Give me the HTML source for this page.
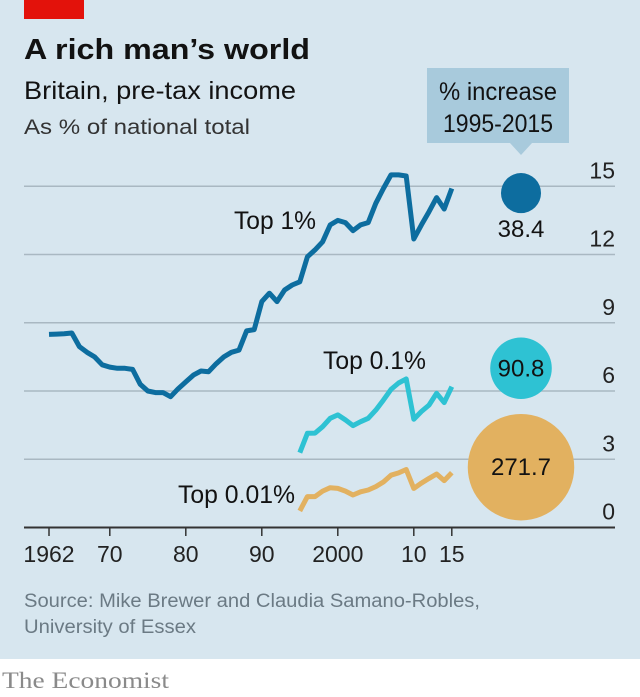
<!DOCTYPE html>
<html><head><meta charset="utf-8"><style>
body{margin:0;width:640px;height:697px;overflow:hidden;background:#fff;font-family:"Liberation Sans",sans-serif}
svg{display:block}
</style></head><body>
<svg width="640" height="697" viewBox="0 0 640 697">
<rect x="0" y="0" width="640" height="659" fill="#d7e6ef"/>
<rect x="24" y="0" width="60" height="19" fill="#e3120b"/>
<text x="24" y="59" font-size="29" font-weight="bold" fill="#121212" textLength="286" lengthAdjust="spacingAndGlyphs">A rich man’s world</text>
<text x="24" y="99" font-size="25" fill="#121212" textLength="272" lengthAdjust="spacingAndGlyphs">Britain, pre-tax income</text>
<text x="24" y="134" font-size="21" fill="#333" textLength="226" lengthAdjust="spacingAndGlyphs">As % of national total</text>
<g>
<rect x="427" y="68" width="142" height="75" fill="#a8cadc"/>
<path d="M510 143 L521 155 L532 143 Z" fill="#a8cadc"/>
<text x="498" y="100" font-size="25" text-anchor="middle" fill="#121212" textLength="118" lengthAdjust="spacingAndGlyphs">% increase</text>
<text x="498" y="132" font-size="25" text-anchor="middle" fill="#121212" textLength="110" lengthAdjust="spacingAndGlyphs">1995-2015</text>
</g>
<g id="grid"></g>
<g id="xaxis"></g>
<g id="series"></g>
<g id="bubbles"></g>
<text x="234" y="229" font-size="25" fill="#121212" textLength="82" lengthAdjust="spacingAndGlyphs">Top 1%</text>
<text x="323" y="369" font-size="25" fill="#121212" textLength="103" lengthAdjust="spacingAndGlyphs">Top 0.1%</text>
<text x="178" y="503" font-size="25" fill="#121212" textLength="117" lengthAdjust="spacingAndGlyphs">Top 0.01%</text>
<text x="24" y="607" font-size="19" fill="#6b7a84" textLength="456" lengthAdjust="spacingAndGlyphs">Source: Mike Brewer and Claudia Samano-Robles,</text>
<text x="24" y="633" font-size="19" fill="#6b7a84" textLength="172" lengthAdjust="spacingAndGlyphs">University of Essex</text>
<text x="2" y="688" font-size="23" fill="#8a8a8a" font-family="Liberation Serif,serif" textLength="167" lengthAdjust="spacingAndGlyphs">The Economist</text>
</svg>
<script>
const yearsTop1=[1962,1963,1964,1965,1966,1967,1968,1969,1970,1971,1972,1973,1974,1975,1976,1977,1978,1979,1980,1981,1982,1983,1984,1985,1986,1987,1988,1989,1990,1991,1992,1993,1994,1995,1996,1997,1998,1999,2000,2001,2002,2003,2004,2005,2006,2007,2008,2009,2010,2011,2012,2013,2014,2015];
const top1=[8.49,8.5,8.52,8.55,7.95,7.7,7.5,7.15,7.05,7.0,7.0,6.95,6.3,6.0,5.93,5.93,5.75,6.1,6.4,6.7,6.88,6.85,7.2,7.5,7.7,7.8,8.64,8.7,9.93,10.3,9.93,10.44,10.66,10.8,11.9,12.2,12.56,13.3,13.5,13.4,13.05,13.3,13.4,14.25,14.9,15.5,15.5,15.45,12.68,13.3,13.88,14.5,14.0,14.9];
const yearsRecent=[1995,1996,1997,1998,1999,2000,2001,2002,2003,2004,2005,2006,2007,2008,2009,2010,2011,2012,2013,2014,2015];
const top01=[3.29,4.14,4.15,4.43,4.8,4.95,4.73,4.48,4.65,4.8,5.16,5.6,6.07,6.35,6.53,4.76,5.1,5.38,5.9,5.49,6.19];
const top001=[0.73,1.36,1.36,1.6,1.75,1.72,1.6,1.43,1.57,1.65,1.8,2.0,2.3,2.4,2.55,1.72,1.95,2.16,2.35,2.06,2.41];
const yTicks=[0,3,6,9,12,15];
const xTicks=[1962,1970,1980,1990,2000,2010,2015];
const xTickLabels=["1962","70","80","90","2000","10","15"];
const increases=[38.4,90.8,271.7];
const bubbleCenters=[14.7,7.0,2.65];
const NS="http://www.w3.org/2000/svg";
const x=y=>49+(y-1962)*7.6;
const yS=v=>527.5-v*22.75;
function mk(tag,attrs,parent){const e=document.createElementNS(NS,tag);for(const k in attrs)e.setAttribute(k,attrs[k]);parent.appendChild(e);return e;}
const grid=document.getElementById('grid');
yTicks.forEach(t=>{
  if(t>0){const l=mk('line',{x1:24,x2:615,y1:yS(t),y2:yS(t),stroke:'#a9b8c2','stroke-width':1.5},grid);
  
  }
  const tx=mk('text',{x:615,y:yS(t)-8,'font-size':23,'text-anchor':'end',fill:'#222'},grid);
  tx.textContent=t;
  
  
});
const xa=document.getElementById('xaxis');
const base=mk('line',{x1:24,x2:615,y1:527.5,y2:527.5,stroke:'#333','stroke-width':2},xa);


xTicks.forEach((t,i)=>{
  const tk=mk('line',{x1:x(t),x2:x(t),y1:527.5,y2:536,stroke:'#333','stroke-width':1.5},xa);
  
  
  const tx=mk('text',{x:x(t),y:562,'font-size':23,'text-anchor':'middle',fill:'#222'},xa);
  tx.textContent=xTickLabels[i];
  
  
});
const sg=document.getElementById('series');
function line(yrs,vals,color,name){
  const d=yrs.map((yr,i)=>(i?'L':'M')+x(yr).toFixed(1)+' '+yS(vals[i]).toFixed(1)).join(' ');
  const p=mk('path',{d:d,fill:'none',stroke:color,'stroke-width':5,'stroke-linejoin':'round'},sg);
  
  
}
line(yearsTop1,top1,'#0d6d9f','line-top-1');
line(yearsRecent,top01,'#2ec2d3','line-top-0-1');
line(yearsRecent,top001,'#e2b160','line-top-0-01');
const bg=document.getElementById('bubbles');
const bc=['#0d6d9f','#2ec2d3','#e2b160'];
increases.forEach((v,i)=>{
  const r=3.23*Math.sqrt(v);const cy=yS(bubbleCenters[i]);
  const c=mk('circle',{cx:521,cy:cy,r:r,fill:bc[i]},bg);
  
  
  const t=mk('text',{x:521,y:i==0?cy+r+24:cy+8,'font-size':24,'text-anchor':'middle',fill:'#121212'},bg);
  t.textContent=v.toFixed(1);
  
  
});
</script>
</body></html>
